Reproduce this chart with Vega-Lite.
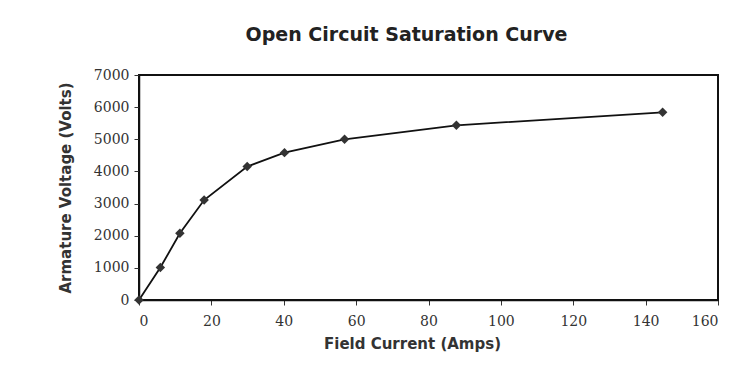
{
  "$schema": "https://vega.github.io/schema/vega-lite/v6.json",
  "width": 579,
  "height": 225,
  "autosize": "none",
  "padding": {"left": 139, "top": 75, "right": 22, "bottom": 74},
  "background": "white",
  "title": {
    "text": "Open Circuit Saturation Curve",
    "font": "DejaVu Sans",
    "fontSize": 19,
    "fontWeight": "bold",
    "color": "#222",
    "offset": 23,
    "anchor": "middle",
    "dx": -22
  },
  "data": {
    "values": [
      {"current": 0, "voltage": 0},
      {"current": 5.9, "voltage": 1010},
      {"current": 11.3, "voltage": 2075},
      {"current": 18, "voltage": 3110},
      {"current": 29.9, "voltage": 4150},
      {"current": 40.2, "voltage": 4585},
      {"current": 56.8, "voltage": 5000},
      {"current": 87.7, "voltage": 5435},
      {"current": 144.7, "voltage": 5840}
    ]
  },
  "config": {
    "view": {"stroke": "#111", "strokeWidth": 2},
    "axis": {
      "domainColor": "#111",
      "domainWidth": 1.5,
      "tickColor": "#333",
      "tickSize": 5,
      "grid": false,
      "format": "d",
      "labelFont": "DejaVu Serif",
      "labelFontSize": 14,
      "labelColor": "#333",
      "titleFont": "DejaVu Sans",
      "titleFontSize": 15,
      "titleFontWeight": "bold",
      "titleColor": "#333"
    }
  },
  "encoding": {
    "x": {
      "field": "current",
      "type": "quantitative",
      "scale": {"domain": [0, 160], "nice": false},
      "axis": {"values": [0, 20, 40, 60, 80, 100, 120, 140, 160], "title": "Field Current (Amps)", "labelPadding": 9, "titlePadding": 8, "titleX": 273}
    },
    "y": {
      "field": "voltage",
      "type": "quantitative",
      "scale": {"domain": [0, 7000], "nice": false},
      "axis": {"values": [0, 1000, 2000, 3000, 4000, 5000, 6000, 7000], "title": "Armature Voltage (Volts)", "labelPadding": 5, "titlePadding": 20}
    }
  },
  "layer": [
    {"mark": {"type": "line", "color": "#111", "strokeWidth": 1.8}},
    {"mark": {"type": "point", "shape": "diamond", "filled": true, "color": "#333", "size": 90, "opacity": 1}}
  ]
}
